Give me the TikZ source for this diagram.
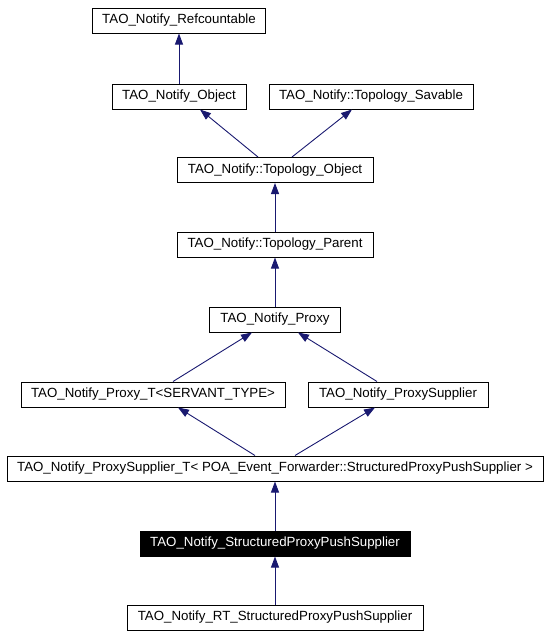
\documentclass[tikz,border=0pt]{standalone}
\usepackage{fontspec}
\setmainfont{Liberation Sans}
\usetikzlibrary{arrows.meta}
\definecolor{edgeblue}{RGB}{25,25,112}
\begin{document}
\begin{tikzpicture}
  [x=1pt,y=-1pt,
  cls/.style={draw=black,fill=white,line width=1pt,minimum height=25pt,inner sep=0pt,font=\fontsize{13.3}{15}\selectfont},
  cur/.style={cls,fill=black,text=white},
  inh/.style={draw=edgeblue,line width=0.9pt,-{Triangle[length=11pt,width=8pt]}}]

  \useasboundingbox (0,0) rectangle (549,637);

  \node[cls,minimum width=173pt] (refc) at (179,20.5) {TAO\_Notify\_Refcountable};

  \node[cls,minimum width=134pt] (obj) at (179,96.5) {TAO\_Notify\_Object};
  \node[cls,minimum width=204pt] (savable) at (371,96.5) {TAO\_Notify::Topology\_Savable};

  \node[cls,minimum width=196pt] (topobj) at (275,170) {TAO\_Notify::Topology\_Object};

  \node[cls,minimum width=196pt] (topparent) at (275,244.5) {TAO\_Notify::Topology\_Parent};

  \node[cls,minimum width=131pt] (proxy) at (275,319.5) {TAO\_Notify\_Proxy};

  \node[cls,minimum width=264pt] (proxyT) at (153,394.5) {TAO\_Notify\_Proxy\_T<SERVANT\_TYPE>};
  \node[cls,minimum width=180pt] (proxysup) at (398,394.5) {TAO\_Notify\_ProxySupplier};

  \node[cls,minimum width=536pt] (proxysupT) at (275,468.5) {TAO\_Notify\_ProxySupplier\_T< POA\_Event\_Forwarder::StructuredProxyPushSupplier >};

  \node[cur,minimum width=270pt] (spps) at (275,543.5) {TAO\_Notify\_StructuredProxyPushSupplier};

  \node[cls,minimum width=296pt] (rt) at (275,617.5) {TAO\_Notify\_RT\_StructuredProxyPushSupplier};

  \draw[inh] (obj) -- (refc);
  \draw[inh] ([xshift=-17pt]topobj.north) -- ([xshift=21pt]obj.south);
  \draw[inh] ([xshift=17pt]topobj.north) -- ([xshift=-19pt]savable.south);
  \draw[inh] (topparent) -- (topobj);
  \draw[inh] (proxy) -- (topparent);
  \draw[inh] ([xshift=20pt]proxyT.north) -- ([xshift=-23pt]proxy.south);
  \draw[inh] ([xshift=-21pt]proxysup.north) -- ([xshift=23pt]proxy.south);
  \draw[inh] ([xshift=-20pt]proxysupT.north) -- ([xshift=25pt]proxyT.south);
  \draw[inh] ([xshift=20pt]proxysupT.north) -- ([xshift=-23pt]proxysup.south);
  \draw[inh] (spps) -- (proxysupT);
  \draw[inh] (rt) -- (spps);

\end{tikzpicture}
\end{document}
